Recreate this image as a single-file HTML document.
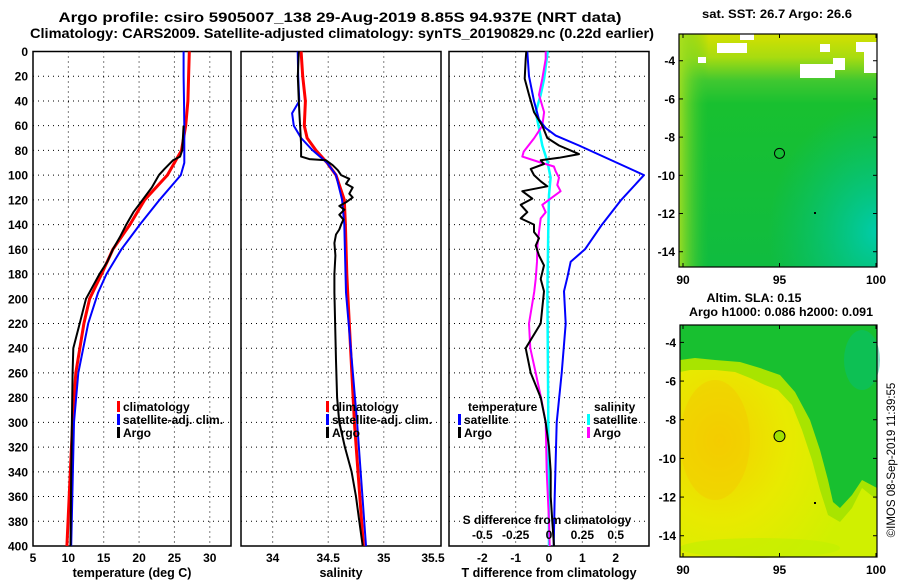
<!DOCTYPE html>
<html><head><meta charset="utf-8"><style>
body{margin:0;background:#fff;}
svg{display:block;font-family:"Liberation Sans",Arial,sans-serif;font-weight:bold;}
</style></head><body>
<svg id="s" width="900" height="580" xmlns="http://www.w3.org/2000/svg">
<text x="340" y="22" font-size="14" text-anchor="middle" textLength="563" lengthAdjust="spacingAndGlyphs">Argo profile: csiro 5905007_138 29-Aug-2019 8.85S 94.937E (NRT data)</text>
<text x="342" y="38" font-size="14" text-anchor="middle" textLength="624" lengthAdjust="spacingAndGlyphs">Climatology: CARS2009. Satellite-adjusted climatology: synTS_20190829.nc (0.22d earlier)</text>
<text x="777" y="18" font-size="12" text-anchor="middle" textLength="150" lengthAdjust="spacingAndGlyphs">sat. SST: 26.7 Argo: 26.6</text>
<text x="754" y="302" font-size="12" text-anchor="middle" textLength="95" lengthAdjust="spacingAndGlyphs">Altim. SLA: 0.15</text>
<text x="781" y="316" font-size="12" text-anchor="middle" textLength="184" lengthAdjust="spacingAndGlyphs">Argo h1000: 0.086 h2000: 0.091</text>
<text transform="translate(895,460) rotate(-90)" font-size="11.5" font-weight="normal" text-anchor="middle">©IMOS 08-Sep-2019 11:39:55</text>
<g id="plots"></g>
</svg>
<script>
// ---- data ----
const depthTicks=[0,20,40,60,80,100,120,140,160,180,200,220,240,260,280,300,320,340,360,380,400];
const tTicks=[5,10,15,20,25,30];
const sTicks=[34,34.5,35];
const dTicks=[-2,-1,0,1,2];
const dsTicks=[-0.5,-0.25,0,0.25,0.5];
const dsTickLabels=["-0.5","-0.25","0","0.25","0.5"];

const climTDepth=[0,20,40,60,80,100,120,140,160,180,200,220,260,300,400];
const climT=[27.1,27.0,26.9,26.6,26.0,24.0,20.8,18.7,16.3,14.7,13.0,12.2,11.05,10.6,9.8];
const satTDepth=[0,20,40,60,80,90,100,120,140,160,180,195,220,260,300,400];
const satT=[26.3,26.3,26.35,26.4,26.4,26.4,25.9,22.9,20.1,17.5,15.4,14.2,12.8,11.4,10.8,10.4];
const argoTDepth=[60,70,80,85,88,95,100,110,120,130,140,150,160,170,180,200,220,240,260,300,340,400];
const argoT=[26.3,26.2,26.1,25.8,24.8,23.6,22.8,21.8,20.5,19.2,18.2,17.3,16.3,15.5,14.4,12.5,11.6,10.7,10.6,10.5,10.4,10.3];

const climSDepth=[0,20,40,60,70,80,90,100,120,140,180,195,300,400];
const climS=[34.256,34.27,34.295,34.285,34.31,34.39,34.49,34.57,34.645,34.655,34.667,34.675,34.736,34.817];
const satSDepth=[0,20,40,50,60,70,80,90,100,120,140,160,195,300,400];
const satS=[34.225,34.23,34.24,34.175,34.19,34.256,34.36,34.49,34.57,34.625,34.645,34.65,34.66,34.76,34.84];
const argoSDepth=[0,20,40,50,60,75,85,87,88,92,96,100,103,107,110,115,118,122,125,128,132,136,140,144,148,155,165,180,195,250,280,300,320,340,360,380,400];
const argoS=[34.235,34.226,34.235,34.241,34.247,34.256,34.256,34.33,34.48,34.54,34.586,34.616,34.69,34.66,34.72,34.69,34.72,34.66,34.6,34.646,34.6,34.637,34.616,34.6,34.57,34.556,34.565,34.556,34.556,34.57,34.58,34.6,34.65,34.71,34.75,34.78,34.81];

const satTdDepth=[0,20,40,55,62,68,76,100,120,140,160,170,183,194,220,260,300,360,400];
const satTd=[-0.65,-0.6,-0.45,-0.3,-0.1,0.2,0.9,2.85,2.17,1.59,1.08,0.65,0.55,0.45,0.5,0.38,0.23,0.17,0.14];
const argoTdDepth=[0,6,22,35,49,60,70,76,83,86,88,91,95,100,105,109,113,119,124,130,135,140,146,151,157,165,173,184,194,220,240,260,280,300,320,340,360,380,400];
const argoTd=[-0.68,-0.70,-0.73,-0.60,-0.45,-0.20,-0.05,0.30,0.90,0.3,-0.25,-0.15,-0.55,-0.45,-0.25,-0.05,-0.8,-0.5,-0.85,-0.65,-0.85,-0.45,-0.45,-0.3,-0.4,-0.3,-0.15,-0.25,-0.15,-0.25,-0.7,-0.55,-0.25,-0.1,0,0.05,0.05,0.1,0.15];
const argoSdDepth=[0,6,22,35,49,60,70,81,85,89,93,97,102,108,113,119,124,130,135,146,157,170,184,194,220,240,260,280,300,340,380,400];
const argoSd=[-0.025,-0.025,-0.05,-0.075,-0.037,-0.05,-0.11,-0.19,-0.2,-0.087,0.037,0.05,0.075,0.062,0.087,0.012,-0.05,-0.025,-0.062,-0.075,-0.087,-0.09,-0.1,-0.11,-0.15,-0.14,-0.1,-0.06,-0.025,-0.017,0,0.005];
const satSdDepth=[0,22,35,49,62,76,89,102,116,143,194,300,400];
const satSd=[-0.01,-0.037,-0.062,-0.1,-0.075,-0.05,-0.012,0.012,0,-0.005,-0.012,-0.005,0.0];

// ---- drawing ----
const NS="http://www.w3.org/2000/svg";
const G=document.getElementById('plots');
function mk(tag,attrs,parent){const e=document.createElementNS(NS,tag);for(const k in attrs)e.setAttribute(k,attrs[k]);(parent||G).appendChild(e);return e;}
const yTop=51.5,yBot=546;
const yD=d=>yTop+(yBot-yTop)*d/400;

function panel(name,x0,x1,vmin,vmax,xt,xtl,xlabel,showY){
  const g=mk('g',{});
  
  
  const xs=v=>x0+(x1-x0)*(v-vmin)/(vmax-vmin);
  depthTicks.forEach(d=>{
    if(d>0&&d<400){const l=mk('line',{x1:x0,x2:x1,y1:yD(d),y2:yD(d),stroke:'#000','stroke-width':1,'stroke-dasharray':'1,4'},g);
      
      }
    if(showY){const t=mk('text',{x:x0-5,y:yD(d)+4.5,'font-size':12,'text-anchor':'end'},g);t.textContent=d;
      
      }
  });
  xt.forEach((v,i)=>{
    const l=mk('line',{x1:xs(v),x2:xs(v),y1:yTop,y2:yBot,stroke:'#000','stroke-width':1,'stroke-dasharray':'1,4'},g);
    
    
    const t=mk('text',{x:xs(v),y:562,'font-size':12,'text-anchor':'middle'},g);t.textContent=xtl[i];
    
    
  });
  const r=mk('rect',{x:x0,y:yTop,width:x1-x0,height:yBot-yTop,fill:'none',stroke:'#000','stroke-width':1.5},g);
  
  
  const xl=mk('text',{x:(x0+x1)/2,y:577,'font-size':12.5,'text-anchor':'middle'},g);xl.textContent=xlabel;
  
  
  return {g,xs};
}
function line(p,depths,vals,color,w,name){
  const pts=depths.map((d,i)=>p.xs(vals[i]).toFixed(1)+','+yD(d).toFixed(1)).join(' ');
  const e=mk('polyline',{points:pts,fill:'none',stroke:color,'stroke-width':w,'stroke-linejoin':'round'},p.g);
  
  
}
function leg(g,x,y,color,label,name){
  if(color){const r=mk('rect',{x:x,y:y-10,width:3,height:11,fill:color},g);
    
    }
  const t=mk('text',{x:x+(color?6:0),y:y,'font-size':12},g);t.textContent=label;
  
  
}

// panel 1 temperature
const p1=panel('temperature-panel',33,231,5,33,tTicks,tTicks.map(String),'temperature (deg C)',true);
line(p1,climTDepth,climT,'#f00',3,'climatology-temperature-line');
line(p1,satTDepth,satT,'#00f',2,'satellite-temperature-line');
line(p1,argoTDepth,argoT,'#000',2,'argo-temperature-line');
leg(p1.g,117,411,'#f00','climatology','legend-climatology');
leg(p1.g,117,424,'#00f','satellite-adj. clim.','legend-satellite');
leg(p1.g,117,437,'#000','Argo','legend-argo');

// panel 2 salinity
const p2=panel('salinity-panel',241,441,33.715,35.515,sTicks,['34','34.5','35'],'salinity',false);
const t355=mk('text',{x:433,y:562,'font-size':12,'text-anchor':'middle'},p2.g);t355.textContent='35.5';


line(p2,climSDepth,climS,'#f00',3,'climatology-salinity-line');
line(p2,satSDepth,satS,'#00f',2,'satellite-salinity-line');
line(p2,argoSDepth,argoS,'#000',2,'argo-salinity-line');
leg(p2.g,326,411,'#f00','climatology','legend-climatology');
leg(p2.g,326,424,'#00f','satellite-adj. clim.','legend-satellite');
leg(p2.g,326,437,'#000','Argo','legend-argo');

// panel 3 differences
const p3=panel('difference-panel',449,649,-3,3,dTicks,dTicks.map(String),'T difference from climatology',false);
const p3s={g:p3.g,xs:v=>p3.xs(v*4)};
line(p3s,satSdDepth,satSd,'#0ff',2.5,'satellite-salinity-diff-line');
line(p3s,argoSdDepth,argoSd,'#f0f',2,'argo-salinity-diff-line');
line(p3,satTdDepth,satTd,'#00f',2,'satellite-temperature-diff-line');
line(p3,argoTdDepth,argoTd,'#000',2,'argo-temperature-diff-line');
leg(p3.g,468,411,null,'temperature','legend-temperature-header');
leg(p3.g,458,424,'#00f','satellite','legend-t-satellite');
leg(p3.g,458,437,'#000','Argo','legend-t-argo');
leg(p3.g,594,411,null,'salinity','legend-salinity-header');
leg(p3.g,587,424,'#0ff','satellite','legend-s-satellite');
leg(p3.g,587,437,'#f0f','Argo','legend-s-argo');
const sdl=mk('text',{x:547,y:524,'font-size':12,'text-anchor':'middle'},p3.g);sdl.textContent='S difference from climatology';


dsTicks.forEach((v,i)=>{const t=mk('text',{x:p3s.xs(v),y:539,'font-size':12,'text-anchor':'middle'},p3.g);t.textContent=dsTickLabels[i];
  
  });

// ---- maps ----
const lonTicks=[90,95,100];
const latTicks=[-4,-6,-8,-10,-12,-14];
function map(name,x0,x1,y0,y1,latTop,latBot){
  const g=mk('g',{});
  
  
  const lx=v=>683+(876-683)*(v-90)/10;
  const ly=v=>y0+(y1-y0)*(latTop-v)/(latTop-latBot);
  return {g,lx,ly,x0,x1,y0,y1};
}
function mapAxes(m){
  lonTicks.forEach(v=>{const t=mk('text',{x:m.lx(v),y:m.y1+17,'font-size':12,'text-anchor':'middle'},m.g);t.textContent=v;
    
    
    mk('line',{x1:m.lx(v),x2:m.lx(v),y1:m.y1,y2:m.y1-4,stroke:'#000'},m.g);
    mk('line',{x1:m.lx(v),x2:m.lx(v),y1:m.y0,y2:m.y0+4,stroke:'#000'},m.g);});
  latTicks.forEach(v=>{const t=mk('text',{x:m.x0-4,y:m.ly(v)+4.5,'font-size':12,'text-anchor':'end'},m.g);t.textContent=v;
    
    
    mk('line',{x1:m.x0,x2:m.x0+4,y1:m.ly(v),y2:m.ly(v),stroke:'#000'},m.g);
    mk('line',{x1:m.x1,x2:m.x1-4,y1:m.ly(v),y2:m.ly(v),stroke:'#000'},m.g);});
  const r=mk('rect',{x:m.x0,y:m.y0,width:m.x1-m.x0,height:m.y1-m.y0,fill:'none',stroke:'#000','stroke-width':1.2},m.g);
  
  
}
// SST map
const m1=map('sst-map',679,877,34,267,-2.6,-14.8);
const defs=mk('defs',{});
defs.innerHTML='<linearGradient id="g1" x1="0" y1="0" x2="0" y2="1"><stop offset="0" stop-color="#d4e000"/><stop offset="0.1" stop-color="#a8dc10"/><stop offset="0.2" stop-color="#40c830"/><stop offset="0.3" stop-color="#18c030"/><stop offset="1" stop-color="#10bc40"/></linearGradient>'+
'<radialGradient id="g2" cx="1" cy="0.85" r="0.55"><stop offset="0" stop-color="#00ccaa"/><stop offset="1" stop-color="#00c080" stop-opacity="0"/></radialGradient>'+
'<linearGradient id="g3" x1="0" y1="0" x2="1" y2="0"><stop offset="0" stop-color="#a8e020" stop-opacity="0.9"/><stop offset="0.15" stop-color="#30c830" stop-opacity="0"/></linearGradient>'+
'<radialGradient id="h1" cx="0.2" cy="0.5" r="0.7"><stop offset="0" stop-color="#f4d000"/><stop offset="0.5" stop-color="#e8ea00"/><stop offset="1" stop-color="#d0f000"/></radialGradient>';
const bg1=mk('rect',{x:679,y:34,width:198,height:233,fill:'url(#g1)'},m1.g);


mk('rect',{x:679,y:34,width:198,height:233,fill:'url(#g3)'},m1.g);
mk('rect',{x:679,y:34,width:198,height:233,fill:'url(#g2)'},m1.g);
[[740,34,14,6],[717,43,30,10],[698,57,8,6],[800,64,35,14],[833,58,12,12],[856,42,21,10],[864,49,13,24],[820,44,10,8]].forEach(c=>{
  const r=mk('rect',{x:c[0],y:c[1],width:c[2],height:c[3],fill:'#fff'},m1.g);
  
  });
const c1=mk('circle',{cx:m1.lx(95),cy:m1.ly(-8.85),r:5,fill:'none',stroke:'#000'},m1.g);


mk('rect',{x:814,y:212,width:2,height:2,fill:'#000'},m1.g);
mapAxes(m1);
// SLA map
const m2=map('sla-map',680,877,325,557,-3.1,-15.1);
const bg2=mk('rect',{x:680,y:325,width:197,height:232,fill:'url(#h1)'},m2.g);


const hi=mk('path',{d:'M680,325 L877,325 L877,500 L862,488 L852,508 L840,522 L828,515 L820,490 L812,460 L802,430 L792,405 L778,390 L765,385 L750,378 L735,372 L715,370 L690,370 L680,372 Z',fill:'#a8e400'},m2.g);


const gr=mk('path',{d:'M680,325 L877,325 L877,488 L862,480 L852,495 L840,508 L833,502 L828,480 L820,450 L810,420 L795,392 L780,375 L760,368 L740,362 L715,360 L695,358 L680,360 Z',fill:'#18c030'},m2.g);


mk('ellipse',{cx:862,cy:360,rx:18,ry:30,fill:'#00c080',opacity:0.45},m2.g);
mk('ellipse',{cx:715,cy:440,rx:35,ry:60,fill:'#f4c800',opacity:0.45},m2.g);
mk('ellipse',{cx:760,cy:548,rx:80,ry:10,fill:'#c0f000',opacity:0.6},m2.g);
const c2=mk('circle',{cx:m2.lx(95),cy:m2.ly(-8.85),r:5.5,fill:'#a0e000',stroke:'#000'},m2.g);


mk('rect',{x:814,y:502,width:2,height:2,fill:'#000'},m2.g);
mapAxes(m2);
</script>
</body></html>
